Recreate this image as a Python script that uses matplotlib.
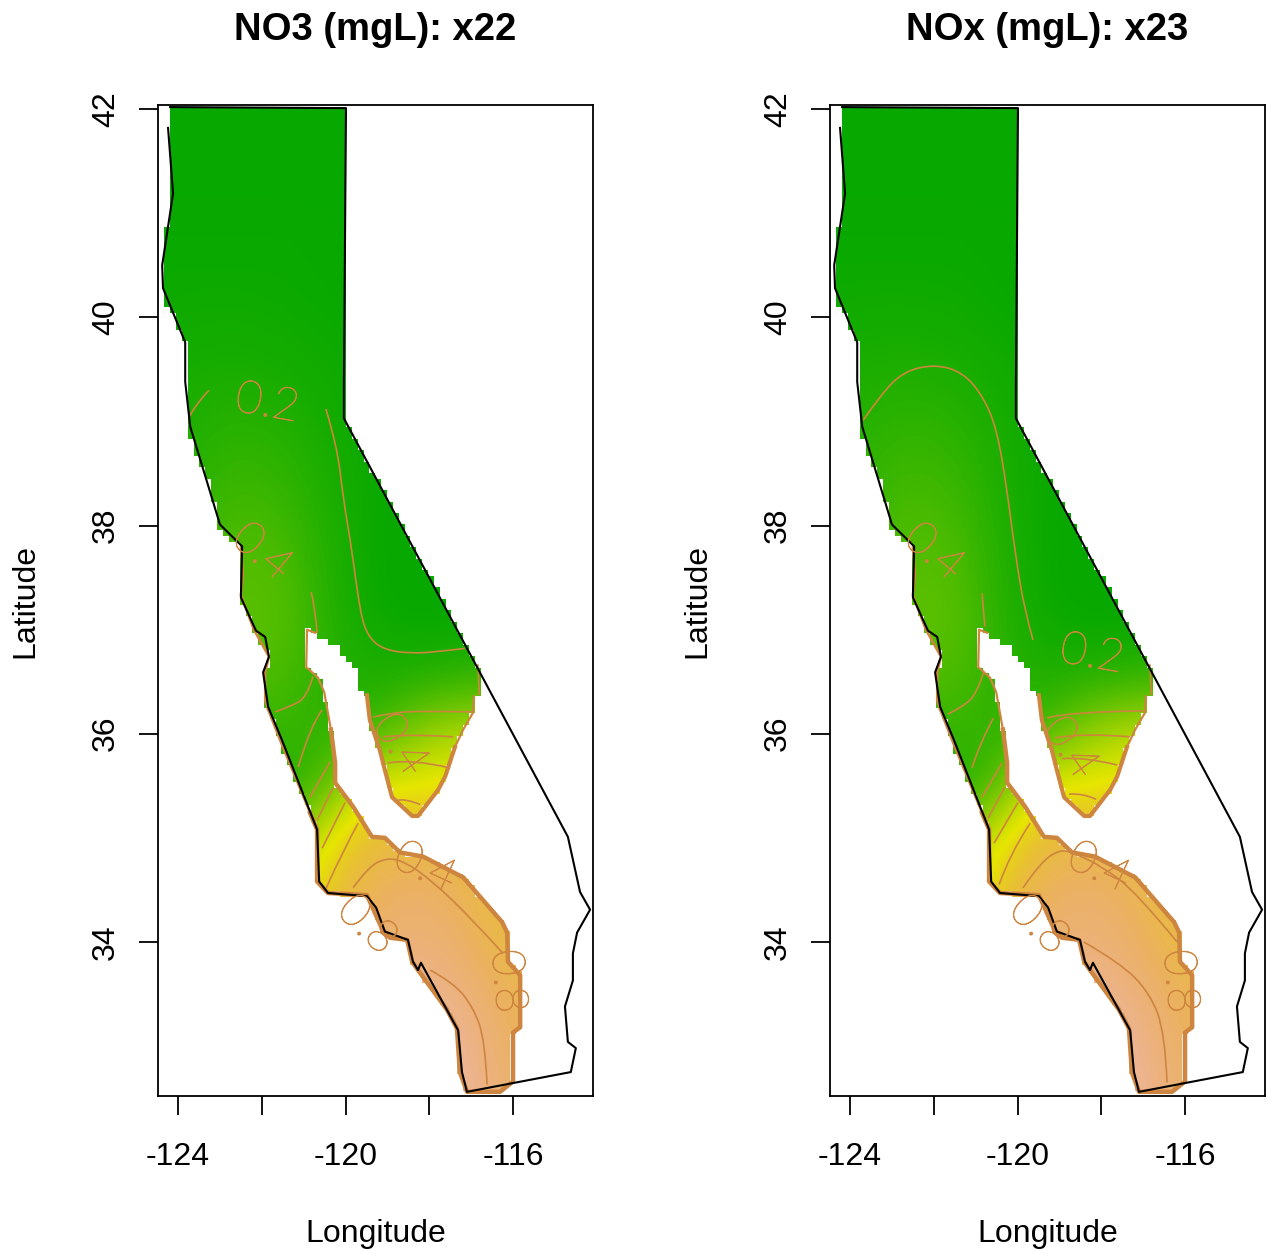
import numpy as np
import matplotlib
matplotlib.use('Agg')
import matplotlib.pyplot as plt
import matplotlib.patheffects as pe
from matplotlib.colors import LinearSegmentedColormap
from matplotlib.patches import PathPatch
from matplotlib.path import Path

plt.rcParams['font.family'] = ['Liberation Sans', 'DejaVu Sans']

## state outline ##############################################################
state_lon = [-124.24, -124.12, -124.38, -124.36, -123.83, -123.83, -123.71, -123.00, -122.47, -122.50,
             -122.14, -121.92, -121.83, -121.97, -121.85, -121.52, -120.68, -120.63, -120.42, -119.49,
             -119.27, -119.06, -118.51, -118.39, -118.27, -118.20, -117.31, -117.22, -117.10, -114.62,
             -114.50, -114.69, -114.76, -114.57, -114.57, -114.47, -114.16, -114.40, -114.69, -120.04,
             -120.04, -119.99, -124.19]
state_lat = [41.82, 41.19, 40.50, 40.28, 39.76, 39.38, 38.95, 38.01, 37.80, 37.31,
             36.99, 36.93, 36.74, 36.59, 36.26, 35.94, 35.08, 34.58, 34.47, 34.44,
             34.33, 34.10, 34.02, 33.81, 33.73, 33.80, 33.15, 32.75, 32.56, 32.75,
             32.98, 33.04, 33.38, 33.63, 33.89, 34.09, 34.31, 34.48, 35.01, 39.03,
             39.32, 42.01, 42.02]

## outline of the area that has predictions ###################################
area_lon = [-124.19, -119.98, -119.98, -120.04, -120.04, -116.84, -116.81, -116.93, -116.96, -117.19,
            -117.39, -117.62, -117.79, -118.27, -118.41, -118.89, -119.06, -119.18, -119.42, -119.49,
            -119.65, -119.70, -120.25, -120.54, -120.73, -120.92, -120.94, -120.66, -120.51, -120.35,
            -120.25, -120.25, -119.82, -119.37, -119.06, -118.70, -118.15, -117.19, -116.26, -116.14,
            -116.12, -115.83, -115.83, -116.00, -116.00, -116.31, -117.10, -117.27, -117.34, -117.58,
            -117.98, -118.27, -118.41, -118.53, -118.94, -119.10, -119.49, -120.42, -120.68, -120.68,
            -120.85, -121.52, -121.85, -121.92, -121.92, -121.83, -122.19, -122.50, -122.45, -122.50,
            -123.02, -123.25, -123.50, -123.68, -123.80, -123.82, -123.90, -124.02, -124.12, -124.33,
            -124.33, -124.19]
area_lat = [42.04, 42.04, 39.32, 39.32, 39.03, 36.66, 36.38, 36.36, 36.20, 36.04,
            35.87, 35.59, 35.46, 35.21, 35.21, 35.39, 35.65, 35.84, 36.13, 36.37,
            36.44, 36.59, 36.86, 36.90, 36.97, 37.00, 36.64, 36.54, 36.40, 36.04,
            35.72, 35.53, 35.30, 35.01, 35.00, 34.86, 34.82, 34.62, 34.19, 34.09,
            33.81, 33.68, 33.18, 33.13, 32.66, 32.56, 32.56, 32.75, 33.17, 33.35,
            33.57, 33.73, 33.81, 34.02, 34.04, 34.10, 34.45, 34.47, 34.58, 35.08,
            35.24, 35.89, 36.23, 36.32, 36.59, 36.74, 37.00, 37.33, 37.53, 37.79,
            37.98, 38.44, 38.60, 38.79, 38.97, 39.76, 39.78, 39.91, 40.02, 40.15,
            40.86, 40.86]

## predicted surfaces, read by eye on a coarse grid ###########################
grid_lon = [-124.5, -123.5, -122.5, -121.5, -120.5, -119.5, -118.5, -117.5, -116.5, -115.5]
grid_lat = [42.0, 41.5, 41.0, 40.5, 40.0, 39.5, 39.0, 38.5, 38.0, 37.5,
            37.0, 36.5, 36.0, 35.5, 35.0, 34.5, 34.0, 33.5, 33.0, 32.5]

no3_z = [[.03, .03, .03, .03, .03, .03, .03, .03, .03, .03],
         [.03, .03, .03, .03, .03, .03, .03, .03, .03, .03],
         [.04, .04, .04, .04, .04, .03, .03, .03, .03, .03],
         [.05, .05, .05, .05, .04, .03, .03, .03, .03, .03],
         [.06, .07, .07, .06, .05, .04, .03, .03, .03, .03],
         [.08, .10, .11, .09, .07, .05, .03, .03, .03, .03],
         [.10, .14, .17, .14, .09, .05, .04, .03, .03, .03],
         [.12, .18, .24, .20, .12, .05, .04, .03, .03, .03],
         [.15, .24, .31, .27, .14, .05, .03, .03, .03, .03],
         [.20, .30, .37, .34, .16, .05, .03, .03, .03, .03],
         [.20, .30, .38, .36, .18, .07, .04, .04, .04, .04],
         [.20, .28, .32, .30, .18, .13, .16, .20, .25, .25],
         [.15, .15, .20, .22, .20, .22, .50, .72, .75, .75],
         [.10, .10, .12, .15, .30, .95, .98, 1.0, 1.0, 1.0],
         [.30, .30, .40, .50, .95, 1.18, 1.2, 1.2, 1.2, 1.2],
         [.50, .50, .70, .90, 1.05, 1.30, 1.38, 1.34, 1.20, 1.15],
         [.90, .90, 1.05, 1.15, 1.25, 1.37, 1.44, 1.40, 1.26, 1.20],
         [1.1, 1.1, 1.2, 1.3, 1.45, 1.50, 1.53, 1.49, 1.36, 1.25],
         [1.2, 1.2, 1.3, 1.4, 1.55, 1.60, 1.62, 1.58, 1.41, 1.30],
         [1.3, 1.3, 1.4, 1.5, 1.60, 1.64, 1.65, 1.61, 1.45, 1.35]]

nox_z = [[.03, .03, .03, .03, .03, .03, .03, .03, .03, .03],
         [.03, .03, .03, .03, .03, .03, .03, .03, .03, .03],
         [.04, .04, .04, .04, .04, .03, .03, .03, .03, .03],
         [.05, .05, .05, .05, .04, .03, .03, .03, .03, .03],
         [.07, .08, .08, .07, .05, .04, .03, .03, .03, .03],
         [.10, .12, .13, .11, .08, .05, .03, .03, .03, .03],
         [.13, .17, .20, .17, .11, .05, .04, .03, .03, .03],
         [.15, .21, .27, .23, .13, .05, .04, .03, .03, .03],
         [.17, .26, .33, .29, .15, .05, .03, .03, .03, .03],
         [.21, .31, .38, .35, .17, .05, .03, .03, .03, .03],
         [.21, .31, .39, .37, .19, .07, .04, .04, .04, .04],
         [.20, .28, .33, .31, .19, .14, .17, .21, .26, .26],
         [.15, .15, .20, .22, .20, .25, .55, .76, .78, .78],
         [.10, .10, .12, .15, .30, .95, .98, 1.0, 1.0, 1.0],
         [.30, .30, .40, .50, .95, 1.18, 1.22, 1.22, 1.2, 1.2],
         [.50, .50, .70, .90, 1.05, 1.32, 1.38, 1.34, 1.20, 1.15],
         [.90, .90, 1.05, 1.15, 1.25, 1.39, 1.44, 1.40, 1.26, 1.20],
         [1.1, 1.1, 1.2, 1.3, 1.45, 1.52, 1.53, 1.49, 1.36, 1.25],
         [1.2, 1.2, 1.3, 1.4, 1.55, 1.60, 1.62, 1.58, 1.41, 1.30],
         [1.3, 1.3, 1.4, 1.5, 1.60, 1.64, 1.65, 1.61, 1.45, 1.35]]

## contour lines, each one is (lons, lats) ####################################
no3_lines = [
    ([-123.74, -123.57, -123.26], [39.04, 39.17, 39.30]),
    ([-120.47, -120.20, -120.06, -119.84, -119.65, -119.46, -119.10, -118.46, -117.74, -117.15],
     [39.12, 38.76, 38.27, 37.74, 37.16, 36.93, 36.81, 36.77, 36.79, 36.82]),
    ([-120.82, -120.73, -120.68], [37.36, 37.22, 36.97]),
    ([-120.78, -120.92, -121.33, -121.68], [36.55, 36.35, 36.26, 36.21]),
    ([-121.13, -120.85, -120.56], [35.68, 36.07, 36.23]),
    ([-120.85, -120.37], [35.39, 35.73]),
    ([-120.68, -120.30], [35.17, 35.48]),
    ([-120.56, -120.01], [34.90, 35.34]),
    ([-120.46, -120.06, -119.70], [34.52, 34.88, 35.14]),
    ([-119.82, -119.46, -119.01, -118.58, -117.91, -116.96, -116.24],
     [34.52, 34.72, 34.81, 34.77, 34.58, 34.21, 33.89]),
    ([-117.98, -117.43, -116.96, -116.67, -116.62], [33.73, 33.61, 33.38, 33.06, 32.63]),
    ([-119.34, -118.94, -118.15, -116.96], [36.16, 36.20, 36.22, 36.21]),
    ([-119.10, -118.46, -117.43], [35.97, 36.00, 35.97]),
    ([-118.99, -118.39, -117.50], [35.72, 35.76, 35.67]),
    ([-118.77, -118.58, -118.22], [35.36, 35.38, 35.32]),
]

nox_lines = [
    ([-123.69, -123.28, -122.73, -121.97, -121.30, -120.82, -120.49, -120.25, -120.06, -119.82, -119.63],
     [39.01, 39.25, 39.48, 39.55, 39.47, 39.24, 38.92, 38.34, 37.74, 37.16, 36.90]),
    ([-120.85, -120.78], [37.35, 37.03]),
    ([-120.82, -120.97, -121.30, -121.66], [36.58, 36.39, 36.26, 36.19]),
    ([-121.09, -120.90, -120.58], [35.67, 35.91, 36.15]),
    ([-120.85, -120.37], [35.39, 35.72]),
    ([-120.70, -120.30], [35.19, 35.49]),
    ([-120.56, -119.99], [34.95, 35.34]),
    ([-120.44, -120.18, -119.70], [34.55, 34.85, 35.14]),
    ([-119.87, -119.46, -118.99, -118.63, -117.96, -117.15, -116.19],
     [34.52, 34.76, 34.89, 34.85, 34.72, 34.47, 34.00]),
    ([-118.42, -117.55, -116.84, -116.48, -116.43], [34.00, 33.80, 33.51, 33.13, 32.65]),
    ([-119.30, -118.82, -117.00], [36.15, 36.21, 36.22]),
    ([-119.10, -118.44, -117.31], [35.96, 36.01, 35.97]),
    ([-118.94, -118.44, -117.62], [35.76, 35.78, 35.70]),
    ([-118.77, -118.44, -118.12], [35.42, 35.43, 35.37]),
]

## contour labels: text, lon, lat, angle
no3_labels = [('0.2', -121.87, 39.17, -10), ('0.4', -121.99, 37.74, -40), ('0.4', -118.70, 35.89, -55),
              ('0.4', -118.10, 34.71, -25), ('0.8', -119.49, 34.16, -43), ('0.8', -116.14, 33.62, -85)]
nox_labels = [('0.2', -118.22, 36.76, -10), ('0.4', -121.99, 37.74, -40), ('0.4', -118.75, 35.86, -55),
              ('0.4', -118.05, 34.71, -25), ('0.8', -119.49, 34.16, -43), ('0.8', -116.14, 33.62, -85)]

x_ticks = [-124, -122, -120, -118, -116]
x_tick_labels = ['-124', '', '-120', '', '-116']
y_ticks = [34, 36, 38, 40, 42]

# same ramp as R's terrain.colors: green, yellow, then towards pale grey
terrain_cols = [(0.0, '#00A600'), (0.5, '#E6E600'), (0.5625, '#E7CE1D'), (0.625, '#E9BD3A'),
                (0.7, '#EBB25E'), (0.75, '#ECB176'), (0.8, '#EDB48E'), (0.875, '#EFC2B3'), (1.0, '#F2F2F2')]
terrain = LinearSegmentedColormap.from_list('terrain_r', terrain_cols)
line_col = '#CD853F'
W, H = 1273.0, 1254.0
# slices of the area outline where the contours pile up into a brown edge
edges = [(5, 7, 1.2), (7, 11, 1.6), (10, 20, 3.0), (24, 30, 1.6), (29, 61, 3.2), (60, 63, 1.6), (62, 70, 1.8)]


def outside_mask():
    ''' White blocks over everything that has no prediction, gives the stepped edge'''
    lon_edges = np.arange(-125.17, -114.9, 0.14)
    lat_edges = np.arange(42.3, 32.2, -0.055)
    xc = (lon_edges[:-1] + lon_edges[1:]) / 2
    yc = (lat_edges[:-1] + lat_edges[1:]) / 2
    xx, yy = np.meshgrid(xc, yc)
    inside = Path(np.c_[area_lon, area_lat]).contains_points(np.c_[xx.ravel(), yy.ravel()]).reshape(xx.shape)
    rgba = np.ones(inside.shape + (4,))
    rgba[inside, 3] = 0
    return rgba, [lon_edges[0], lon_edges[-1], lat_edges[-1], lat_edges[0]]


def smooth_path(lons, lats):
    ''' Quadratic curve through the midpoints, contours are not polygons'''
    if len(lons) < 3:
        return Path(np.c_[lons, lats])
    pts = np.c_[lons, lats]
    verts = [pts[0]]
    codes = [Path.MOVETO]
    for i in range(1, len(pts) - 1):
        end = pts[i + 1] if i == len(pts) - 2 else (pts[i] + pts[i + 1]) / 2
        verts += [pts[i], end]
        codes += [Path.CURVE3, Path.CURVE3]
    return Path(verts, codes)


def draw_panel(left, z, lines, labels, title):
    ax = fig.add_axes([left / W, (H - 1096) / H, 435 / W, 991 / H])
    dlon = (grid_lon[1] - grid_lon[0]) / 2
    dlat = (grid_lat[0] - grid_lat[1]) / 2
    ax.imshow(z, cmap=terrain, vmin=0, vmax=1.9, aspect='auto', interpolation='bicubic',
              extent=[grid_lon[0] - dlon, grid_lon[-1] + dlon, grid_lat[-1] - dlat, grid_lat[0] + dlat])
    rgba, ext = outside_mask()
    ax.imshow(rgba, aspect='auto', interpolation='nearest', extent=ext)

    for a, b, lw in edges:
        ax.plot(area_lon[a:b], area_lat[a:b], color=line_col, lw=lw, solid_joinstyle='round')
    for lons, lats in lines:
        ax.add_patch(PathPatch(smooth_path(lons, lats), fc='none', ec=line_col, lw=1.2))
    for txt, lon, lat, rot in labels:
        ax.text(lon, lat, txt, color=line_col, fontsize=33, family='Lato', fontweight=100,
                rotation=rot, rotation_mode='anchor', ha='center', va='center',
                path_effects=[pe.withStroke(linewidth=0.6, foreground=line_col)])

    ax.plot(state_lon, state_lat, color='black', lw=1.5)

    ax.set_xlim(-124.48, -114.09)
    ax.set_ylim(32.52, 42.04)
    ax.set_xticks(x_ticks)
    ax.set_xticklabels(x_tick_labels)
    ax.set_yticks(y_ticks)
    ax.set_yticklabels([str(y) for y in y_ticks], rotation=90, va='center')
    ax.tick_params(axis='x', length=13.7, width=1.3, labelsize=23, pad=19.5)
    ax.tick_params(axis='y', length=13.7, width=1.3, labelsize=23, pad=13)
    for s in ax.spines.values():
        s.set_linewidth(1.3)
    ax.set_xlabel('Longitude', fontsize=23)
    ax.xaxis.set_label_coords(0.5, -138 / 991.0)
    ax.xaxis.label.set_va('center')
    ax.set_ylabel('Latitude', fontsize=23)
    ax.yaxis.set_label_coords(-133 / 435.0, 0.5)
    ax.yaxis.label.set_va('center')
    ax.text(0.5, 1 + 75 / 991.0, title, transform=ax.transAxes, fontsize=27.5, fontweight='bold',
            ha='center', va='center')
    return ax


fig = plt.figure(figsize=(W / 100, H / 100), dpi=100)
draw_panel(158, no3_z, no3_lines, no3_labels, 'NO3 (mgL): x22')
draw_panel(830, nox_z, nox_lines, nox_labels, 'NOx (mgL): x23')
fig.savefig('out.png', dpi=100)
